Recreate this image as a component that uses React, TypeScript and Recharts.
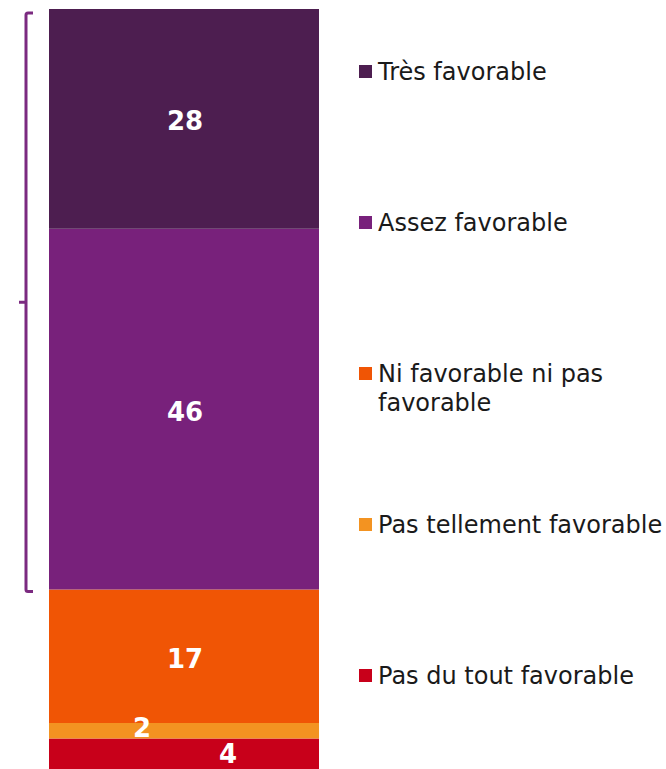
import React from 'react';
import { BarChart, Bar, XAxis, YAxis, LabelList, Legend, ReferenceArea } from 'recharts';

const categories = ['Ensemble'];
const seriesKeys = ['pasDuTout', 'pasTellement', 'ni', 'assez', 'tres'];
const seriesNames = [
  'Pas du tout favorable',
  'Pas tellement favorable',
  'Ni favorable ni pas favorable',
  'Assez favorable',
  'Très favorable',
];
const pasDuToutValues = [4];
const pasTellementValues = [2];
const niValues = [17];
const assezValues = [46];
const tresValues = [28];
const seriesColors = ['#C8001A', '#F39321', '#F05505', '#78217B', '#4D1E50'];

const seriesValues = [pasDuToutValues, pasTellementValues, niValues, assezValues, tresValues];

const data = categories.map((name, ci) => {
  const row: Record<string, string | number> = { name };
  seriesKeys.forEach((k, si) => {
    row[k] = seriesValues[si][ci];
  });
  return row;
});

const labelShift: Record<string, { dx: number; dy: number }> = {
  pasTellement: { dx: -42, dy: -3 },
  pasDuTout: { dx: 44, dy: 0 },
};

const makeLabel = (key: string) => (props: any) => {
  const x = Number(props.x);
  const y = Number(props.y);
  const w = Number(props.width);
  const h = Number(props.height);
  const s = labelShift[key] || { dx: 1, dy: 2.5 };
  return (
    <text
      x={x + w / 2 + s.dx}
      y={y + h / 2 + s.dy}
      fill="#ffffff"
      textAnchor="middle"
      dominantBaseline="central"
      fontFamily="'DejaVu Sans', Verdana, sans-serif"
      fontWeight="bold"
      fontSize={26}
    >
      {props.value}
    </text>
  );
};

const Bracket = (props: any) => {
  const x = Number(props.x) - 23;
  const top = Number(props.y) + 4;
  const bottom = Number(props.y) + Number(props.height) + 2;
  const mid = (top + bottom) / 2;
  const d = `M ${x + 7} ${top} L ${x + 2} ${top} Q ${x} ${top} ${x} ${top + 2} L ${x} ${bottom - 2} Q ${x} ${bottom} ${x + 2} ${bottom} L ${x + 7} ${bottom} M ${x} ${mid} L ${x - 7} ${mid}`;
  return <path d={d} fill="none" stroke="#7B2A80" strokeWidth={3} strokeLinecap="butt" />;
};

const renderLegend = () => {
  const items = seriesNames
    .map((name, i) => ({ name, color: seriesColors[i] }))
    .reverse();
  return (
    <div style={{ position: 'relative', width: 311, height: 769 }}>
      {items.map((it, i) => (
        <div
          key={it.name}
          style={{
            position: 'absolute',
            left: 4,
            top: 72 + i * 151 - 14.5,
            display: 'flex',
            alignItems: 'flex-start',
          }}
        >
          <span
            style={{
              display: 'inline-block',
              width: 13,
              height: 13,
              background: it.color,
              marginTop: 7,
              marginRight: 6,
              flex: '0 0 auto',
            }}
          />
          <span
            style={{
              width: 289,
              fontSize: 24,
              lineHeight: '29px',
              color: '#1a1a1a',
              fontFamily: "'DejaVu Sans', Verdana, sans-serif",
            }}
          >
            {it.name}
          </span>
        </div>
      ))}
    </div>
  );
};

export default function App() {
  return (
    <div style={{ position: 'absolute', left: 0, top: 0, width: 666, height: 769, overflow: 'hidden', background: '#fff' }}>
      <BarChart
        width={666}
        height={770}
        data={data}
        margin={{ top: 9, right: 347, bottom: 0, left: 49 }}
        barCategoryGap={0}
      >
        <XAxis dataKey="name" hide />
        <YAxis type="number" domain={[0, 97]} hide />
        <Legend
          layout="vertical"
          align="center"
          verticalAlign="middle"
          content={renderLegend}
          wrapperStyle={{ position: 'absolute', left: 355, top: 0, width: 311, height: 769 }}
        />
        <ReferenceArea y1={23} y2={97} shape={<Bracket />} ifOverflow="visible" />
        {seriesKeys.map((k, i) => (
          <Bar
            key={k}
            dataKey={k}
            name={seriesNames[i]}
            stackId="a"
            fill={seriesColors[i]}
            isAnimationActive={false}
          >
            <LabelList dataKey={k} content={makeLabel(k)} />
          </Bar>
        ))}
      </BarChart>
    </div>
  );
}
